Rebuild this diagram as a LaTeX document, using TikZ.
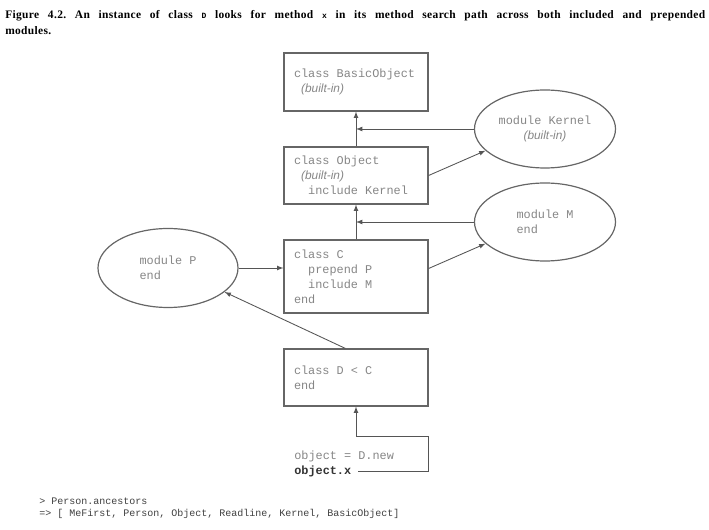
\documentclass[tikz,border=0pt]{standalone}
\usepackage{fontspec}
\setmainfont{Liberation Serif}
\setsansfont{Liberation Sans}
\setmonofont{Liberation Mono}
\usepackage{tikz}
\usetikzlibrary{shapes.geometric}

\definecolor{linegray}{HTML}{555555}
\definecolor{boxgray}{HTML}{666666}
\definecolor{codegray}{HTML}{868686}
\newcommand{\tabin}{\hspace*{5.34pt}}
\newcommand{\bltin}{{\sffamily\itshape (built-in)}}

\begin{document}
\begin{tikzpicture}[
		x=0.75pt, y=-0.75pt,
		classbox/.style={draw=boxgray, line width=0.9pt, minimum width=108pt, text width=93pt, inner xsep=7.5pt, align=flush left, text=codegray, font=\ttfamily\fontsize{8.9}{11.25}\selectfont},
		modoval/.style={draw=boxgray, line width=0.9pt, ellipse, minimum width=105.75pt, minimum height=58.5pt, inner sep=0pt, text=codegray, font=\ttfamily\fontsize{8.9}{11.25}\selectfont},
		link/.style={->, >=latex, draw=linegray, line width=0.65pt}
	]
	\useasboundingbox (0,0) rectangle (709,530);

	\node[anchor=north west, text width=525pt, align=justify, inner sep=0pt, font=\bfseries\fontsize{8.6}{12}\selectfont\addfontfeatures{LetterSpace=3}\frenchspacing] (title) at (5,10) {Figure 4.2. An instance of class {\ttfamily\fontsize{6}{6}\selectfont D} looks for method {\ttfamily\fontsize{6}{6}\selectfont x} in its method search path across both included and prepended\linebreak modules.};

	% class chain
	\node[classbox, minimum height=43.5pt] (bobj) at (356,82) {class BasicObject\\\tabin\bltin};
	\node[classbox, minimum height=42.75pt] (obj) at (356,175.5) {class Object\\\tabin\bltin\\\tabin\tabin include Kernel};
	\node[classbox, minimum height=54.75pt] (clsc) at (356,276.5) {class C\\\tabin\tabin prepend P\\\tabin\tabin include M\\end};
	\node[classbox, minimum height=42.75pt] (clsd) at (356,377.5) {class D < C\\end};

	% modules
	\node[modoval, align=center] (kernel) at (545,129) {module Kernel\\\bltin};
	\node[modoval, align=left] (modm) at (545,222) {module M\\end};
	\node[modoval, align=left, minimum width=105pt, minimum height=59.25pt] (modp) at (168,268) {module P\\end};

	\node[anchor=west, inner sep=0pt, text=codegray, font=\ttfamily\fontsize{8.9}{11.25}\selectfont] (newobj) at (294,456) {object = D.new};
	\node[anchor=west, inner sep=0pt, text=black!80, font=\ttfamily\bfseries\fontsize{8.9}{11.25}\selectfont] (callx) at (294,471) {object.x};

	\node[anchor=west, inner sep=0pt, align=left, text=black!75, font=\ttfamily\fontsize{7.5}{9}\selectfont] (ancs) at (39,508) {> Person.ancestors\\=> [ MeFirst, Person, Object, Readline, Kernel, BasicObject]};

	% lookup path
	\draw[link] (obj.north) -- (bobj.south);
	\draw[link] (kernel.west) -- (kernel.west -| bobj.south);
	\draw[link] (obj.east) -- (kernel.200);
	\draw[link] (clsc.north) -- (obj.south);
	\draw[link] (modm.west) -- (modm.west -| obj.south);
	\draw[link] ([yshift=6pt]clsc.east) -- (modm.200);
	\draw[link] (modp.east) -- (modp.east -| clsc.west);
	\draw[link] ([xshift=-8pt]clsd.north) -- (modp.-23);

	\coordinate (bend) at (356,436);
	\draw[link] ([xshift=5pt]callx.east) -| (bend -| clsd.east) -- (bend) -- (clsd.south);
\end{tikzpicture}
\end{document}
